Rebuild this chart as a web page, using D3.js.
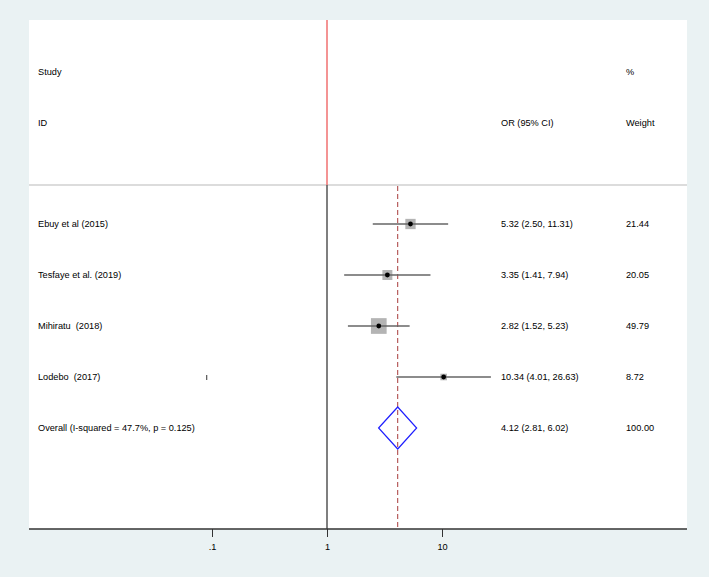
<!DOCTYPE html>
<html>
<head>
<meta charset="utf-8">
<script src="https://cdn.jsdelivr.net/npm/d3@7"></script>
<style>
  body { margin: 0; background: #eaf2f3; }
  svg text { font-family: "Liberation Sans", Arial, sans-serif; font-size: 9.2px; fill: #000; white-space: pre; }
</style>
</head>
<body>
<svg id="forest" width="709" height="577"></svg>
<script>
// study data
let studies = ["Ebuy et al (2015)", "Tesfaye et al. (2019)", "Mihiratu  (2018)", "Lodebo  (2017)"]
let or_vals = [5.32, 3.35, 2.82, 10.34]
let ci_low = [2.50, 1.41, 1.52, 4.01]
let ci_high = [11.31, 7.94, 5.23, 26.63]
let weights = [21.44, 20.05, 49.79, 8.72]
let or_labels = ["5.32 (2.50, 11.31)", "3.35 (1.41, 7.94)", "2.82 (1.52, 5.23)", "10.34 (4.01, 26.63)"]
let weight_labels = ["21.44", "20.05", "49.79", "8.72"]

let overall_label = "Overall (I-squared = 47.7%, p = 0.125)"
let overall = [4.12, 2.81, 6.02]
let overall_text = "4.12 (2.81, 6.02)"
let overall_weight = "100.00"

let tick_vals = [0.1, 1, 10]
let tick_labels = [".1", "1", "10"]

let svg = d3.select("#forest")

let plotLeft = 29, plotRight = 687, plotTop = 20, axisY = 529, sepY = 185

// plot region
svg.append("rect")
    .attr("x", plotLeft).attr("y", plotTop)
    .attr("width", plotRight - plotLeft).attr("height", axisY - plotTop)
    .style("fill", "white")

let x = d3.scaleLog()
    .domain([0.1, 10])
    .range([212, 442])

let y = d3.scaleLinear()
    .domain([0, 4])
    .range([224, 428])

// header separator
svg.append("line")
    .attr("x1", plotLeft).attr("x2", plotRight)
    .attr("y1", sepY).attr("y2", sepY)
    .style("stroke", "#dcdcdc")
    .style("stroke-width", 2)

// null line (red above header, dark below)
svg.append("line")
    .attr("x1", x(1)).attr("x2", x(1))
    .attr("y1", plotTop).attr("y2", sepY)
    .style("stroke", "#f07070")
    .style("stroke-width", 1.5)
svg.append("line")
    .attr("x1", x(1)).attr("x2", x(1))
    .attr("y1", sepY).attr("y2", axisY)
    .style("stroke", "#555")
    .style("stroke-width", 1.5)

// overall dashed line
svg.append("line")
    .attr("x1", x(overall[0])).attr("x2", x(overall[0]))
    .attr("y1", sepY + 1).attr("y2", axisY)
    .style("stroke", "#a83a3a")
    .style("stroke-width", 1)
    .style("stroke-dasharray", "5,3")

// headers
let headers = [
    {t: "Study", x: 38, y: 72}, {t: "ID", x: 38, y: 123},
    {t: "%", x: 626, y: 72}, {t: "OR (95% CI)", x: 501, y: 123},
    {t: "Weight", x: 626, y: 123}
]
svg.append("g").selectAll("text")
    .data(headers)
    .join("text")
    .attr("x", d => d.x).attr("y", d => d.y)
    .attr("dy", "0.35em")
    .text(d => d.t)

let rows = studies.map((s, i) => ({
    name: s, or: or_vals[i], lo: ci_low[i], hi: ci_high[i], w: weights[i],
    orText: or_labels[i], wText: weight_labels[i], i: i
}))

let boxSize = d3.scaleSqrt().domain([0, 49.79]).range([0, 15.7])

let g = svg.append("g")

g.selectAll(".box")
    .data(rows)
    .join("rect")
    .attr("class", "box")
    .attr("x", d => x(d.or) - boxSize(d.w) / 2)
    .attr("y", d => y(d.i) - boxSize(d.w) / 2)
    .attr("width", d => boxSize(d.w))
    .attr("height", d => boxSize(d.w))
    .style("fill", "#b4b4b4")

g.selectAll(".ci")
    .data(rows)
    .join("line")
    .attr("class", "ci")
    .attr("x1", d => x(d.lo)).attr("x2", d => x(d.hi))
    .attr("y1", d => y(d.i)).attr("y2", d => y(d.i))
    .style("stroke", "#666")
    .style("stroke-width", 1.3)

g.selectAll(".pt")
    .data(rows)
    .join("circle")
    .attr("class", "pt")
    .attr("cx", d => x(d.or)).attr("cy", d => y(d.i))
    .attr("r", 2.4)
    .style("fill", "black")

// stray mark on Lodebo row
svg.append("line")
    .attr("x1", x(0.09)).attr("x2", x(0.09))
    .attr("y1", y(3) - 2).attr("y2", y(3) + 3)
    .style("stroke", "#333").style("stroke-width", 1)

g.selectAll(".lab")
    .data(rows)
    .join("text")
    .attr("class", "lab")
    .attr("x", 38).attr("y", d => y(d.i)).attr("dy", "0.35em")
    .text(d => d.name)

g.selectAll(".ortxt")
    .data(rows)
    .join("text")
    .attr("class", "ortxt")
    .attr("x", 501).attr("y", d => y(d.i)).attr("dy", "0.35em")
    .text(d => d.orText)

g.selectAll(".wtxt")
    .data(rows)
    .join("text")
    .attr("class", "wtxt")
    .attr("x", 626).attr("y", d => y(d.i)).attr("dy", "0.35em")
    .text(d => d.wText)

// overall diamond
let oy = y(4)
let dh = 21
svg.append("path")
    .attr("d", "M" + x(overall[1]) + "," + oy +
        "L" + x(overall[0]) + "," + (oy - dh) +
        "L" + x(overall[2]) + "," + oy +
        "L" + x(overall[0]) + "," + (oy + dh) + "Z")
    .style("fill", "none")
    .style("stroke", "#1f1fff")
    .style("stroke-width", 1.2)

svg.append("text").attr("x", 38).attr("y", oy).attr("dy", "0.35em").text(overall_label)
svg.append("text").attr("x", 501).attr("y", oy).attr("dy", "0.35em").text(overall_text)
svg.append("text").attr("x", 626).attr("y", oy).attr("dy", "0.35em").text(overall_weight)

// x axis
let axis = d3.axisBottom(x)
    .tickValues(tick_vals)
    .tickFormat((d, i) => tick_labels[i])
    .tickSize(8)
    .tickPadding(6)

let ax = svg.append("g")
    .attr("transform", "translate(0," + axisY + ")")
    .call(axis)
ax.select(".domain").remove()
ax.selectAll(".tick line").style("stroke", "#333")
ax.selectAll(".tick text").style("font-family", "Liberation Sans, Arial, sans-serif").style("font-size", "9.2px")

svg.append("line")
    .attr("x1", plotLeft).attr("x2", plotRight)
    .attr("y1", axisY).attr("y2", axisY)
    .style("stroke", "#333")
    .style("stroke-width", 1.3)
</script>
</body>
</html>
